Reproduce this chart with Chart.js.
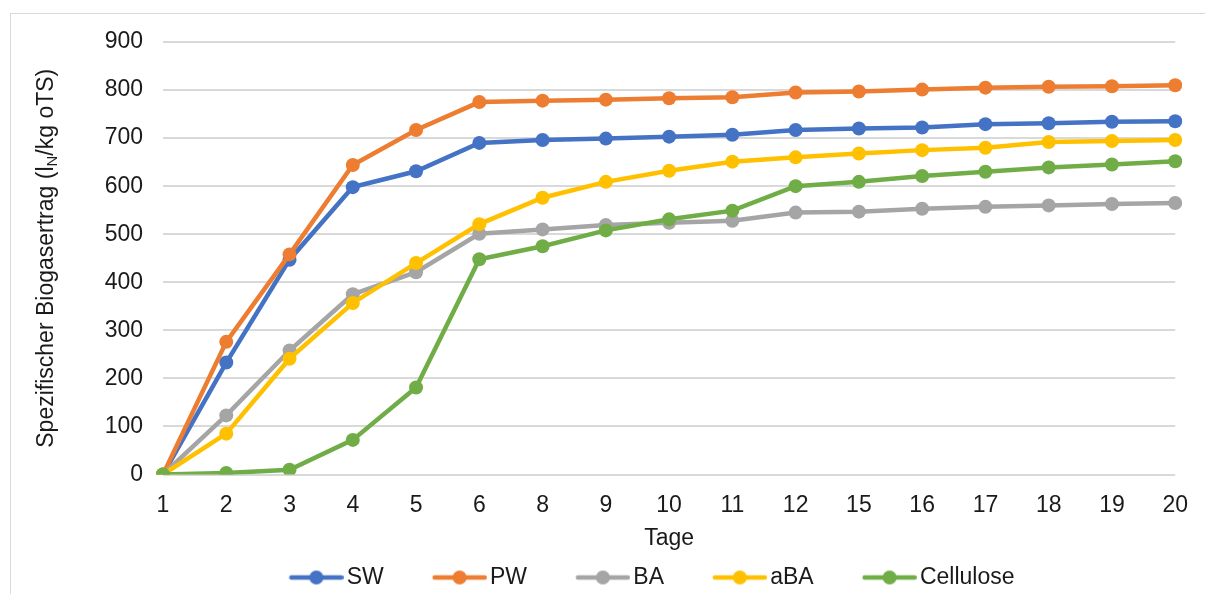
<!DOCTYPE html>
<html>
<head>
<meta charset="utf-8">
<script src="https://cdn.jsdelivr.net/npm/chart.js@4"></script>
<style>
  html, body { margin: 0; padding: 0; background: #fff; overflow: hidden; }
  #wrap { position: relative; width: 1205px; height: 599px; }
  #frame { position: absolute; left: 10px; top: 13px; width: 1400px; height: 800px; border: 1px solid #d9d9d9; box-sizing: border-box; }
  #chartcanvas { position: absolute; left: 0; top: 0; }
</style>
</head>
<body>
<div id="wrap">
  <div id="frame"></div>
  <canvas id="chartcanvas" width="1205" height="599"></canvas>
</div>
<script>
// Tage (categories)
var days = ["1","2","3","4","5","6","8","9","10","11","12","15","16","17","18","19","20"];

// series values
var sw        = [0, 233, 447, 598, 631, 690, 696, 699, 703, 707, 717, 720, 722, 729, 731, 734, 735];
var pw        = [0, 276, 458, 644, 717, 775, 778, 780, 783, 785, 795, 797, 801, 805, 807, 808, 810];
var ba        = [0, 123, 258, 375, 421, 501, 510, 519, 524, 528, 545, 547, 553, 557, 560, 563, 565];
var aba       = [0, 85, 241, 357, 440, 521, 576, 609, 632, 651, 660, 668, 675, 680, 692, 694, 696];
var cellulose = [0, 3, 10, 72, 181, 448, 475, 508, 531, 549, 600, 609, 621, 630, 639, 645, 652];

var seriesNames = ["SW", "PW", "BA", "aBA", "Cellulose"];
var seriesColors = ["#4472C4", "#ED7D31", "#A5A5A5", "#FFC000", "#70AD47"];

var yTitleMain = "Spezifischer Biogasertrag (l";
var yTitleSub = "N";
var yTitleEnd = "/kg oTS)";

var FONT = "'Liberation Sans', Arial, sans-serif";
var TEXT = "#1a1a1a";

// small line+marker picture for the legend (blank strip on the left = extra gap)
function legendMark(color) {
	var c = document.createElement("canvas");
	c.width = 58.25; c.height = 16;
	var g = c.getContext("2d");
	var s = 3.25;
	g.strokeStyle = color;
	g.lineWidth = 4.5;
	g.lineCap = "round";
	g.beginPath(); g.moveTo(s + 2.5, 8); g.lineTo(s + 52.5, 8); g.stroke();
	g.fillStyle = color;
	g.beginPath(); g.arc(s + 27.5, 8, 7, 0, Math.PI * 2); g.fill();
	return c;
}
var marks = seriesColors.map(legendMark);

function makeSet(i, values) {
	return {
		label: seriesNames[i],
		data: values,
		borderColor: seriesColors[i],
		backgroundColor: seriesColors[i],
		borderWidth: 4.5,
		pointRadius: 7,
		pointHoverRadius: 7,
		pointBorderWidth: 0,
		fill: false,
		tension: 0,
		order: 5 - i
	};
}

// y axis title with subscript, drawn by hand
var yTitlePlugin = {
	id: "yTitle",
	afterLayout: function(chart) {
		// legend sits a bit right of the page centre, like the original
		var lg = chart.legend;
		if (lg) {
			var shift = 654.25 - (lg.left + lg.right) / 2;
			lg.left += shift;
			lg.right += shift;
		}
	},
	afterDraw: function(chart) {
		var ctx = chart.ctx;
		var area = chart.chartArea;
		ctx.save();
		ctx.fillStyle = TEXT;
		ctx.textBaseline = "alphabetic";
		ctx.textAlign = "left";
		ctx.font = "23px " + FONT;
		var w1 = ctx.measureText(yTitleMain).width;
		var w3 = ctx.measureText(yTitleEnd).width;
		ctx.font = "15px " + FONT;
		var w2 = ctx.measureText(yTitleSub).width;
		var total = w1 + w2 + w3;
		ctx.translate(53, (area.top + area.bottom) / 2);
		ctx.rotate(-Math.PI / 2);
		var x = -total / 2;
		ctx.font = "23px " + FONT;
		ctx.fillText(yTitleMain, x, 0);
		ctx.font = "15px " + FONT;
		ctx.fillText(yTitleSub, x + w1, 4);
		ctx.font = "23px " + FONT;
		ctx.fillText(yTitleEnd, x + w1 + w2, 0);
		ctx.restore();
	}
};

var ctx = document.getElementById("chartcanvas");

var data = {
	labels: days,
	datasets: [
		makeSet(0, sw),
		makeSet(1, pw),
		makeSet(2, ba),
		makeSet(3, aba),
		makeSet(4, cellulose)
	]
};

var options = {
	responsive: false,
	animation: false,
	layout: {
		padding: { left: 0, right: 23, top: 42, bottom: 0 }
	},
	plugins: {
		tooltip: { enabled: false },
		legend: {
			display: true,
			position: "bottom",
			labels: {
				usePointStyle: true,
				pointStyleWidth: 41.25,
				padding: 53.5,
				color: TEXT,
				font: { family: FONT, size: 23 },
				generateLabels: function(chart) {
					var items = Chart.defaults.plugins.legend.labels.generateLabels(chart);
					items.sort(function(a, b) { return a.datasetIndex - b.datasetIndex; });
					items.forEach(function(it) {
						it.pointStyle = marks[it.datasetIndex];
						it.fontColor = TEXT;
					});
					return items;
				}
			}
		}
	},
	scales: {
		x: {
			offset: false,
			grid: { display: false, drawTicks: false },
			border: { display: false },
			ticks: {
				autoSkip: false,
				maxRotation: 0,
				padding: 17,
				color: TEXT,
				font: { family: FONT, size: 23 }
			},
			title: {
				display: true,
				text: "Tage",
				color: TEXT,
				font: { family: FONT, size: 23 },
				padding: { top: 0, bottom: -40 }
			},
			afterFit: function(scale) { scale.height = 38; }
		},
		y: {
			min: 0,
			max: 900,
			grid: { color: "#d9d9d9", lineWidth: 2, drawTicks: false },
			border: { display: false },
			ticks: {
				stepSize: 100,
				padding: 20,
				color: TEXT,
				font: { family: FONT, size: 23 }
			},
			afterFit: function(scale) { scale.width = 163; }
		}
	}
};

var chart = new Chart(ctx, {
	type: "line",
	data: data,
	options: options,
	plugins: [yTitlePlugin]
});
</script>
</body>
</html>
